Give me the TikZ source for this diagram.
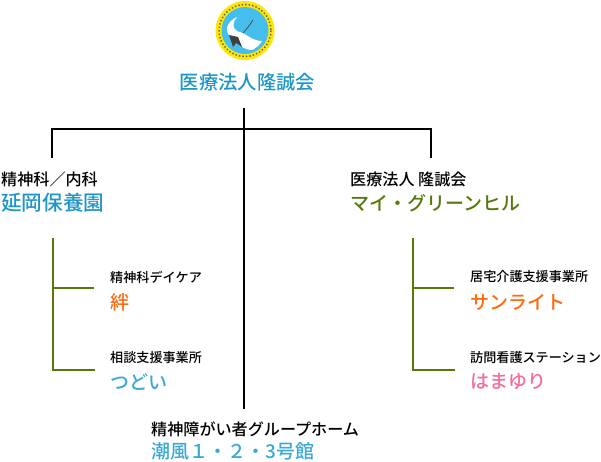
\documentclass[tikz,border=0pt]{standalone}
\usepackage{fontspec}
\setmainfont[BoldFont={Noto Sans CJK JP Medium}]{Noto Sans CJK JP}
\usepackage{tikz}
\usetikzlibrary{calc}
\definecolor{aoiro}{HTML}{1E96C8}
\definecolor{mizu}{HTML}{3CA8D4}
\definecolor{midori}{HTML}{567A0A}
\definecolor{daidai}{HTML}{FF6A0E}
\definecolor{momo}{HTML}{F76C9E}
\definecolor{sora}{HTML}{45BEEE}
\tikzset{
  kana/.style={anchor=west, inner sep=0pt, font=\fontsize{13.1}{13}\selectfont\bfseries},
  midashi/.style={anchor=west, inner sep=0pt, font=\fontsize{16.1}{16}\selectfont\bfseries},
  ookii/.style={anchor=west, inner sep=0pt, font=\fontsize{20.6}{20}\selectfont\bfseries},
  meisho/.style={anchor=west, inner sep=0pt, font=\fontsize{19}{19}\selectfont\bfseries},
  kuro/.style={line width=2pt, black},
  eda/.style={line width=2pt, midori}
}
\begin{document}
\begin{tikzpicture}
  [
    x=1pt, y=-1pt
  ]
  \useasboundingbox (0, 0) rectangle (601, 461);
  % logo
  \fill [yellow!90!orange] (245, 30.5) circle (29.5);
  \draw [black!60, line width=1.5pt, dash pattern=on 1.5pt off 2pt] (245, 30.5) circle (26);
  \fill [sora] (245, 30.5) circle (23.5);
  \fill [white] (237, 17) .. controls (226, 22) and (224, 32) .. (231, 37)
    .. controls (236, 44) and (245, 50) .. (252, 50)
    .. controls (256, 48) and (260, 45) .. (262, 41)
    .. controls (254, 41) and (248, 36) .. (243, 33)
    .. controls (236, 32) and (229, 27) .. (237, 17) -- cycle;
  \fill [black!75] (229, 35) -- (238, 37) -- (242, 47) -- (236, 43) -- (233, 47) -- cycle;
  \draw [line width=0.8pt, black!70] (243, 33) .. controls (246, 30) and (249, 26) .. (253, 20);
  % labels
  \node [meisho, anchor=center, font=\fontsize{19.3}{19}\selectfont\bfseries, text=aoiro] at (247.5, 82) (houjin) {医療法人隆誠会};
  \node [midashi] at (1, 179) (nobeoka-sub) {精神科／内科};
  \node [ookii, text=aoiro] at (1, 203) (nobeoka) {延岡保養園};
  \node [midashi] at (350, 179) (green-sub) {医療法人 隆誠会};
  \node [meisho, text=midori] at (350, 203) (green) {マイ・グリーンヒル};
  \node [kana] at (110, 277) (kizuna-sub) {精神科デイケア};
  \node [meisho, text=daidai] at (110, 302) (kizuna) {絆};
  \node [kana] at (110, 358) (tsudoi-sub) {相談支援事業所};
  \node [meisho, text=mizu] at (110, 382) (tsudoi) {つどい};
  \node [kana] at (470, 277) (sun-sub) {居宅介護支援事業所};
  \node [meisho, text=daidai] at (470, 302) (sun) {サンライト};
  \node [kana] at (470, 358) (hama-sub) {訪問看護ステーション};
  \node [meisho, text=momo] at (470, 382) (hama) {はまゆり};
  \node [midashi] at (151, 429) (shiokaze-sub) {精神障がい者グループホーム};
  \node [meisho, text=mizu] at (151, 451.5) (shiokaze) {潮風１・２・3号館};
  % black lines
  \coordinate (top) at (244, 108);
  \coordinate (bottom) at (244, 409);
  \coordinate (left) at (52, 158);
  \coordinate (right) at (431, 158);
  \coordinate (bar) at (244, 129);
  \draw [kuro] (top) -- (bottom);
  \draw [kuro] (left) |- (bar) -| (right);
  % green branches
  \coordinate (a0) at (53, 238);
  \coordinate (a1) at (94, 288);
  \coordinate (a2) at (95, 370);
  \coordinate (b0) at (413, 238);
  \coordinate (b1) at (454, 288);
  \coordinate (b2) at (455, 370);
  \draw [eda] (a0) |- (a2);
  \draw [eda] (a0 |- a1) -- (a1);
  \draw [eda] (b0) |- (b2);
  \draw [eda] (b0 |- b1) -- (b1);
\end{tikzpicture}
\end{document}
